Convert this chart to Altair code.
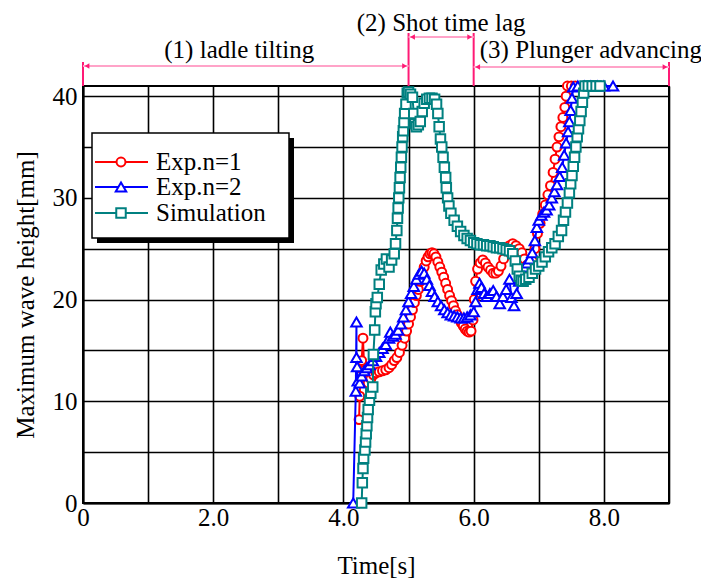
import altair as alt
import pandas as pd

# ---------------- data ----------------
exp1_t = [4.24, 4.25, 4.26, 4.28, 4.30, 4.32, 4.35, 4.38, 4.42, 4.46, 4.50, 4.55, 4.60, 4.65, 4.70,
          4.74, 4.78, 4.82, 4.86, 4.90, 4.94, 4.97, 5.00, 5.03, 5.06, 5.09, 5.12, 5.15, 5.18, 5.21,
          5.24, 5.27, 5.30, 5.33, 5.36, 5.39, 5.42, 5.45, 5.48, 5.51, 5.54, 5.57, 5.60, 5.63, 5.66,
          5.69, 5.72, 5.75, 5.78, 5.81, 5.84, 5.87, 5.90, 5.93, 5.96, 5.99, 6.01, 6.03, 6.06, 6.10,
          6.14, 6.18, 6.22, 6.26, 6.30, 6.34, 6.38, 6.42, 6.46, 6.50, 6.55, 6.60, 6.65, 6.70, 6.74,
          6.78, 6.82, 6.86, 6.90, 6.94, 6.98, 7.02, 7.06, 7.10, 7.14, 7.18, 7.22, 7.25, 7.28, 7.31,
          7.34, 7.37, 7.40, 7.42, 7.44, 7.50, 7.56]
exp1_h = [8.2, 10.5, 12.5, 14.0, 16.2, 13.0, 12.0, 11.8, 12.2, 12.6, 12.8, 12.9, 13.0, 13.1, 13.3,
          13.6, 14.0, 14.3, 14.8, 15.5, 16.2, 16.9, 17.6, 18.3, 19.0, 19.7, 20.4, 21.0, 21.8, 22.6,
          23.2, 23.8, 24.2, 24.5, 24.6, 24.5, 24.2, 23.7, 23.2, 22.7, 22.2, 21.6, 21.0, 20.4, 19.9,
          19.4, 18.9, 18.5, 18.1, 17.7, 17.4, 17.1, 16.9, 16.8, 16.9, 18.0, 20.0, 21.8, 23.0, 23.6,
          23.9, 23.6, 23.2, 22.9, 22.6, 22.6, 22.8, 23.3, 24.0, 24.8, 25.3, 25.5, 25.3, 25.0, 24.6,
          24.0, 23.4, 23.2, 23.8, 25.0, 26.5, 27.5, 28.4, 29.3, 30.3, 31.2, 32.5, 33.8, 35.0, 36.0,
          37.0, 37.9, 38.9, 40.0, 41.0, 41.0, 41.0]

exp2_t = [4.15, 4.19, 4.20, 4.20, 4.21, 4.22, 4.25, 4.28, 4.32, 4.36, 4.40, 4.45, 4.50, 4.55, 4.60,
          4.65, 4.70, 4.72, 4.76, 4.80, 4.84, 4.88, 4.92, 4.96, 5.00, 5.04, 5.08, 5.12, 5.16, 5.20,
          5.24, 5.28, 5.32, 5.36, 5.40, 5.45, 5.50, 5.55, 5.60, 5.65, 5.70, 5.75, 5.80, 5.85, 5.90,
          5.95, 6.00, 6.03, 6.06, 6.09, 6.12, 6.16, 6.20, 6.25, 6.30, 6.35, 6.40, 6.45, 6.50, 6.55,
          6.58, 6.62, 6.66, 6.70, 6.74, 6.78, 6.82, 6.86, 6.90, 6.94, 6.97, 7.00, 7.04, 7.08, 7.12,
          7.16, 7.20, 7.24, 7.28, 7.32, 7.36, 7.39, 7.42, 7.45, 7.47, 7.49, 7.51, 7.53, 7.60, 7.70,
          7.80, 7.90, 8.00, 8.14]
exp2_h = [0.0, 11.0, 17.8, 14.3, 13.4, 12.0, 11.8, 12.5, 13.0, 13.3, 13.6, 14.0, 14.4, 14.8, 15.2,
          15.6, 16.2, 16.8, 16.4, 16.6, 17.0, 17.6, 18.3, 19.0, 19.8, 20.6, 21.3, 22.0, 22.5, 22.8,
          22.6, 22.0, 21.4, 20.8, 20.3, 19.8, 19.4, 19.0, 18.7, 18.5, 18.4, 18.3, 18.2, 18.2, 18.3,
          18.5, 18.8, 19.8, 21.0, 21.6, 21.2, 20.6, 20.3, 20.6, 20.9, 20.3, 19.6, 20.3, 21.0, 22.0,
          20.2, 19.4, 20.6, 21.8, 22.8, 23.2, 23.6, 24.0, 24.6, 25.8, 27.1, 27.8, 28.3, 28.6, 28.8,
          29.3, 30.0, 30.6, 31.3, 32.1, 33.0, 34.2, 35.4, 36.5, 37.5, 38.6, 39.8, 40.9, 41.0, 41.0,
          41.0, 41.0, 41.0, 41.0]

sim_t = [4.28, 4.29, 4.30, 4.31, 4.33, 4.34, 4.35, 4.36, 4.37, 4.38, 4.40, 4.42, 4.45, 4.46, 4.48,
         4.49, 4.50, 4.52, 4.55, 4.58, 4.62, 4.66, 4.70, 4.74, 4.78, 4.80, 4.82, 4.83, 4.84, 4.85,
         4.86, 4.87, 4.88, 4.89, 4.90, 4.91, 4.92, 4.93, 4.94, 4.96, 4.98, 5.00, 5.03, 5.06, 5.08,
         5.10, 5.12, 5.15, 5.18, 5.21, 5.24, 5.28, 5.32, 5.36, 5.40, 5.43, 5.45, 5.47, 5.49, 5.51,
         5.53, 5.55, 5.57, 5.58, 5.60, 5.62, 5.65, 5.70, 5.75, 5.80, 5.85, 5.90, 5.95, 6.00, 6.05,
         6.10, 6.15, 6.20, 6.25, 6.30, 6.35, 6.40, 6.45, 6.50, 6.55, 6.60, 6.64, 6.67, 6.70, 6.73,
         6.76, 6.80, 6.85, 6.90, 6.95, 7.00, 7.05, 7.10, 7.15, 7.20, 7.25, 7.30, 7.35, 7.38, 7.41,
         7.44, 7.47, 7.49, 7.51, 7.53, 7.55, 7.57, 7.59, 7.61, 7.63, 7.65, 7.67, 7.69, 7.71, 7.76,
         7.82, 7.88, 7.94]
sim_h = [0.0, 2.0, 3.4, 4.4, 5.2, 6.0, 6.8, 7.6, 8.4, 9.2, 10.1, 10.8, 11.4, 14.6, 17.0,
         18.8, 19.6, 20.2, 21.5, 22.9, 23.5, 24.0, 23.2, 23.9, 24.5, 25.5, 26.8, 28.0, 29.0, 30.0,
         31.0, 32.0, 33.0, 34.0, 35.0, 36.0, 36.6, 37.4, 38.3, 39.2, 40.3, 40.4, 40.2, 39.9, 38.3,
         37.3, 37.0, 37.2, 37.5, 38.5, 39.3, 39.7, 39.8, 39.8, 39.7, 39.2, 38.3, 37.0, 35.8, 35.0,
         34.0, 33.0, 32.0, 31.0, 30.0, 29.2, 28.5, 27.8, 27.2, 26.7, 26.3, 26.0, 25.8, 25.6, 25.5,
         25.4, 25.4, 25.3, 25.3, 25.2, 25.1, 25.1, 25.0, 24.9, 24.8, 24.5, 23.8, 23.0, 22.3, 21.9,
         21.8, 22.0, 22.2, 22.6, 23.0, 23.3, 23.7, 24.2, 24.7, 25.1, 25.5, 26.2, 26.8, 27.8, 28.6,
         29.5, 30.5, 31.4, 32.2, 33.1, 34.0, 35.0, 36.0, 36.8, 37.6, 38.5, 39.4, 40.3, 41.0, 41.0,
         41.0, 41.0, 41.0]

series_names = ["Exp.n=1", "Exp.n=2", "Simulation"]
series_colors = ["#ff0000", "#0000ff", "#008080"]
series_shapes = ["circle", "triangle-up", "square"]

phase_bounds = [0.0, 5.0, 6.0, 9.0]
phase_labels = ["(1) ladle tilting", "(2) Shot time lag", "(3) Plunger advancing"]
phase_label_t = [2.4, 5.5, 7.8]

x_ticks = list(range(10))
y_ticks = [0, 5, 10, 15, 20, 25, 30, 35, 40]

FONT = "Liberation Serif, Times New Roman, Times, serif"
PINK = "#ff1a75"
LIGHT_PINK = "#ffa3c8"

# ---------------- scales / axes ----------------
xscale = alt.Scale(domain=[0, 9], nice=False, zero=False)
xs = alt.X("t:Q", scale=xscale,
           axis=alt.Axis(values=x_ticks, title="Time[s]", labelFlush=False,
                         labelExpr="datum.value == 0 ? '0' : ((datum.value % 2 == 0 && datum.value < 9) ? format(datum.value, '.1f') : '')",
                         labelPadding=2, titlePadding=23))
ys = alt.Y("h:Q",
           scale=alt.Scale(domain=[0, 41], nice=False),
           axis=alt.Axis(values=y_ticks, title="Maximum wave height[mm]", labelFlush=False,
                         labelExpr="datum.value % 10 == 0 ? format(datum.value, 'd') : ''",
                         labelPadding=6, titlePadding=14))

layers = []
for name, t, h, c, shp in zip(series_names, [exp1_t, exp2_t, sim_t], [exp1_h, exp2_h, sim_h],
                              series_colors, series_shapes):
    d = pd.DataFrame({"t": t, "h": h, "i": list(range(len(t)))})
    base = alt.Chart(d)
    layers.append(base.mark_line(color=c, strokeWidth=2).encode(x=xs, y=ys, order="i:Q"))
    size = 80 if shp == "circle" else (110 if shp == "triangle-up" else 90)
    layers.append(base.mark_point(shape=shp, fill="white", stroke=c, strokeWidth=2,
                                  filled=False, opacity=1, size=size)
                  .encode(x=xs, y=ys))

# ---------------- phase annotations ----------------
vl = pd.DataFrame({"t": phase_bounds, "top": [-24, -53, -53, -24]})
layers.append(alt.Chart(vl).mark_rule(color=PINK, strokeWidth=2).encode(
    x=xs, y=alt.Y("top:Q", scale=None), y2=alt.value(0)))

arr = pd.DataFrame({"t": phase_bounds[:-1], "t2": phase_bounds[1:], "yy": [-20, -49, -19]})
layers.append(alt.Chart(arr).mark_rule(color=LIGHT_PINK, strokeWidth=2).encode(
    x=xs, x2="t2:Q", y=alt.Y("yy:Q", scale=None)))
heads_l = alt.Chart(arr).mark_point(shape="triangle-left", filled=True, color=PINK, opacity=1,
                                    size=30, xOffset=4).encode(x=xs, y=alt.Y("yy:Q", scale=None))
heads_r = alt.Chart(arr).mark_point(shape="triangle-right", filled=True, color=PINK, opacity=1,
                                    size=30, xOffset=-4).encode(x=alt.X("t2:Q", scale=xscale),
                                                                y=alt.Y("yy:Q", scale=None))
layers += [heads_l, heads_r]

txt = pd.DataFrame({"t": phase_label_t, "lab": phase_labels, "yy": [-36, -63, -36]})
layers.append(alt.Chart(txt).mark_text(font=FONT, fontSize=25, color="black", baseline="middle").encode(
    x=xs, y=alt.Y("yy:Q", scale=None), text="lab:N"))

# ---------------- legend (drawn by hand) ----------------
one = pd.DataFrame({"a": [0]})
layers.append(alt.Chart(one).mark_rect(color="black").encode(
    x=alt.value(14), x2=alt.value(211), y=alt.value(52), y2=alt.value(157)))
layers.append(alt.Chart(one).mark_rect(fill="white", stroke="black", strokeWidth=1.5).encode(
    x=alt.value(9), x2=alt.value(206), y=alt.value(47), y2=alt.value(152)))
leg_y = [76, 101, 127]
for name, c, shp, yy in zip(series_names, series_colors, series_shapes, leg_y):
    ld = pd.DataFrame({"lab": [name]})
    b = alt.Chart(ld)
    layers.append(b.mark_rule(color=c, strokeWidth=2).encode(
        x=alt.value(12), x2=alt.value(65), y=alt.value(yy)))
    size = 80 if shp == "circle" else (110 if shp == "triangle-up" else 90)
    layers.append(b.mark_point(shape=shp, fill="white", stroke=c, strokeWidth=2, filled=False,
                               opacity=1, size=size).encode(x=alt.value(38), y=alt.value(yy)))
    layers.append(b.mark_text(font=FONT, fontSize=25, color="black", align="left",
                              baseline="middle").encode(x=alt.value(73), y=alt.value(yy), text="lab:N"))

chart = alt.layer(*layers).properties(
    width=586, height=417,
    padding={"left": 75, "top": 78, "right": 32, "bottom": 77},
    autosize=alt.AutoSizeParams(type="none"),
).configure_view(stroke="black", strokeWidth=2).configure_axis(
    labelFont=FONT, labelFontSize=25, labelColor="black",
    titleFont=FONT, titleFontSize=25, titleColor="black", titleFontWeight="normal",
    ticks=False, domainColor="black", domainWidth=2,
    grid=True, gridColor="black", gridWidth=1.6, gridOpacity=1,
)

chart.save("out.html", embed_options={"renderer": "svg", "actions": False})
